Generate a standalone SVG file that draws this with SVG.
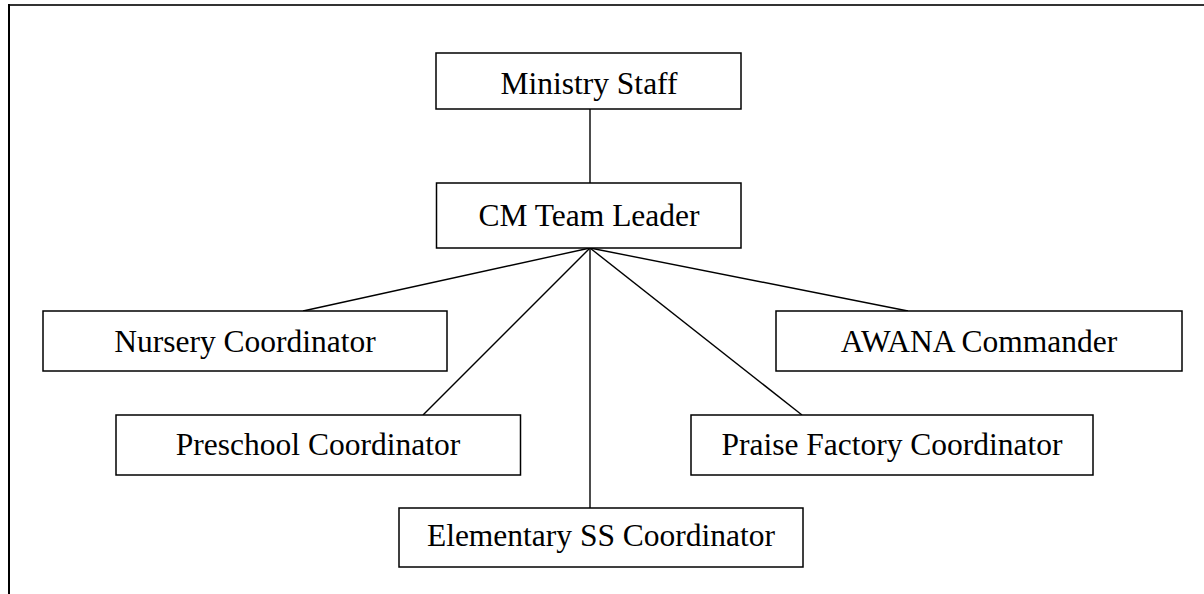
<svg xmlns="http://www.w3.org/2000/svg" width="1204" height="594" viewBox="0 0 1204 594">
  <style>
    .box { fill: #fff; stroke: #000; stroke-width: 1.5; }
    .lbl { font-family: "Liberation Serif", "Times New Roman", serif; font-size: 31.5px; fill: #000; text-anchor: middle; }
    .link { stroke: #000; stroke-width: 1.4; fill: none; }
  </style>
  <rect width="1204" height="594" fill="#fff"/>
  <!-- page frame -->
  <g id="frame">
    <line x1="8" y1="5" x2="1204" y2="5" stroke="#333" stroke-width="2"/>
    <line x1="9" y1="4" x2="9" y2="594" stroke="#000" stroke-width="2"/>
  </g>
  <!-- connectors -->
  <g id="connectors">
    <line class="link" x1="590" y1="109" x2="590" y2="183"/>
    <line class="link" x1="590" y1="248" x2="303" y2="311"/>
    <line class="link" x1="590" y1="248" x2="908" y2="311"/>
    <line class="link" x1="590" y1="248" x2="423" y2="415"/>
    <line class="link" x1="590" y1="248" x2="802" y2="415"/>
    <line class="link" x1="590" y1="248" x2="590" y2="508"/>
  </g>
  <g id="ministry-staff">
    <rect class="box" x="436" y="53" width="305" height="56"/>
    <text class="lbl" x="589" y="94">Ministry Staff</text>
  </g>
  <g id="cm-team-leader">
    <rect class="box" x="436.5" y="183" width="304.5" height="65"/>
    <text class="lbl" x="589" y="226">CM Team Leader</text>
  </g>
  <g id="nursery-coordinator">
    <rect class="box" x="43" y="311" width="404" height="60"/>
    <text class="lbl" x="245" y="352">Nursery Coordinator</text>
  </g>
  <g id="awana-commander">
    <rect class="box" x="776" y="311" width="406" height="60"/>
    <text class="lbl" x="979" y="352">AWANA Commander</text>
  </g>
  <g id="preschool-coordinator">
    <rect class="box" x="116" y="415" width="404.5" height="60"/>
    <text class="lbl" x="318" y="455">Preschool Coordinator</text>
  </g>
  <g id="praise-factory-coordinator">
    <rect class="box" x="691" y="415" width="402" height="60"/>
    <text class="lbl" x="892" y="455">Praise Factory Coordinator</text>
  </g>
  <g id="elementary-ss-coordinator">
    <rect class="box" x="399" y="508" width="404" height="59"/>
    <text class="lbl" x="601" y="546">Elementary SS Coordinator</text>
  </g>
</svg>
